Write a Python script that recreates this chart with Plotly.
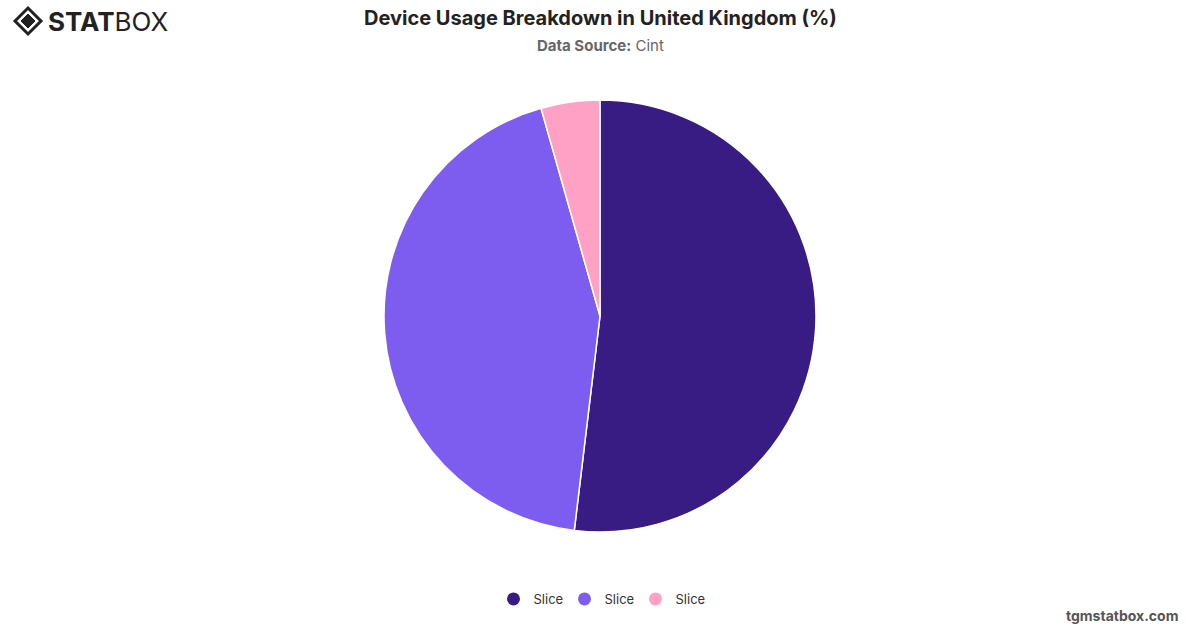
import plotly.graph_objects as go

labels = ["Slice A", "Slice B", "Slice C"]
legend_names = ["Slice", "Slice", "Slice"]
values = [51.9, 43.7, 4.4]
colors = ["#381c84", "#7d5df0", "#ffa0c5"]

fig = go.Figure()
fig.add_trace(go.Pie(
    labels=labels, values=values, sort=False, direction="clockwise", rotation=0,
    marker=dict(colors=colors, line=dict(color="white", width=1.5)),
    textinfo="none", hoverinfo="label+percent", showlegend=False,
    domain=dict(x=[384/1200, 816/1200], y=[1-532/628, 1-100/628]),
))
for name, c in zip(legend_names, colors):
    fig.add_trace(go.Scatter(x=[None], y=[None], mode="markers", name=name,
                             marker=dict(color=c, size=13, symbol="circle")))

fig.update_layout(
    width=1200, height=628, margin=dict(l=0, r=0, t=0, b=0),
    paper_bgcolor="white", plot_bgcolor="white",
    font=dict(family="Inter, sans-serif", color="#333"),
    xaxis=dict(visible=False), yaxis=dict(visible=False),
    legend=dict(orientation="h", x=0.5, xanchor="center", y=1-599/628, yanchor="middle",
                font=dict(size=13, color="#333"), entrywidth=26, entrywidthmode="pixels"),
    annotations=[
        dict(text="<b>Device Usage Breakdown in United Kingdom (%)</b>", x=0.5, y=1-18/628,
             xref="paper", yref="paper", showarrow=False, font=dict(size=20, color="#222"),
             xanchor="center", yanchor="middle"),
        dict(text="<b>Data Source:</b> Cint", x=0.5, y=1-45/628, xref="paper", yref="paper",
             showarrow=False, font=dict(size=15, color="#666"), xanchor="center", yanchor="middle"),
        dict(text="<b>tgmstatbox.com</b>", x=1180/1200, y=1-615/628, xref="paper", yref="paper",
             showarrow=False, font=dict(size=14, color="#555"), xanchor="right", yanchor="middle"),
        dict(text="<b>STAT</b>BOX", x=46/1200, y=1-21/628, xref="paper", yref="paper",
             showarrow=False, font=dict(size=26, color="#222", family="Inter, sans-serif"),
             xanchor="left", yanchor="middle"),
    ],
    shapes=[
        dict(type="path", xref="paper", yref="paper",
             path="M {},{} L {},{} L {},{} L {},{} Z".format(
                 15/1200, 1-21/628, 28/1200, 1-8/628, 41/1200, 1-21/628, 28/1200, 1-34/628),
             line=dict(color="#222", width=3), fillcolor="rgba(0,0,0,0)"),
        dict(type="path", xref="paper", yref="paper",
             path="M {},{} L {},{} L {},{} L {},{} Z".format(
                 21/1200, 1-21/628, 28/1200, 1-14/628, 35/1200, 1-21/628, 28/1200, 1-28/628),
             line=dict(color="#222", width=1), fillcolor="#222"),
    ],
)
fig.write_html("out.html")
